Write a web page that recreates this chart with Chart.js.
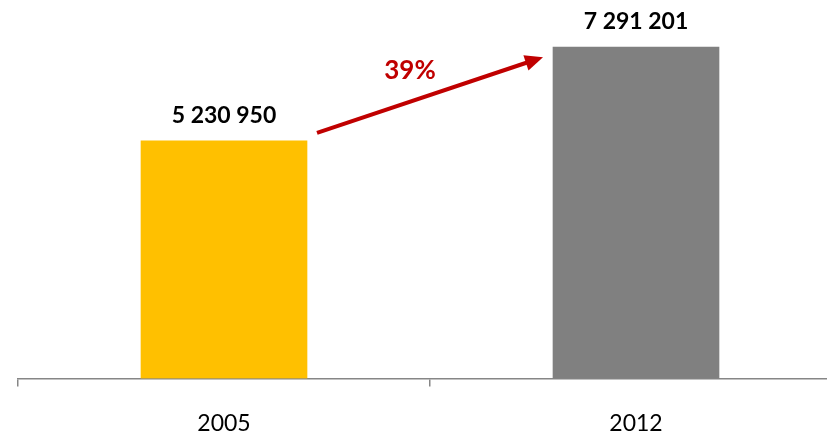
<!DOCTYPE html>
<html>
<head>
<meta charset="utf-8">
<script src="https://cdn.jsdelivr.net/npm/chart.js@4.4.1/dist/chart.umd.min.js"></script>
<style>
  html, body { margin: 0; padding: 0; background: #fff; overflow: hidden; }
  #wrap { width: 827px; height: 433px; overflow: hidden; }
</style>
</head>
<body>
<div id="wrap"><canvas id="c" width="842" height="460"></canvas></div>
<script>
// chart data
const years = ['2005', '2012'];
const population = [5230950, 7291201];
const barColors = ['#FFC000', '#808080'];
const growthLabel = '39%';

const fmt = v => String(v).replace(/\B(?=(\d{3})+(?!\d))/g, ' ');

// value labels above the bars + growth arrow between them
const annotate = {
  id: 'annotate',
  afterDatasetsDraw(chart) {
    const ctx = chart.ctx;
    const bars = chart.getDatasetMeta(0).data;
    ctx.save();
    ctx.fillStyle = '#000';
    ctx.font = 'bold 23px Lato, "Open Sans", sans-serif';
    ctx.textAlign = 'center';
    ctx.textBaseline = 'alphabetic';
    bars.forEach((b, i) => ctx.fillText(fmt(population[i]), b.x, b.y - 18));

    const a = bars[0], b = bars[1];
    const x1 = a.x + a.width / 2 + 10, y1 = a.y - 8;
    const x2 = b.x - b.width / 2 - 10, y2 = b.y + 10;
    const ang = Math.atan2(y2 - y1, x2 - x1);
    const head = 18, half = 8;
    const cos = Math.cos(ang), sin = Math.sin(ang);
    ctx.strokeStyle = '#C00000';
    ctx.fillStyle = '#C00000';
    ctx.lineWidth = 4;
    ctx.beginPath();
    ctx.moveTo(x1, y1);
    ctx.lineTo(x2 - head * 0.8 * cos, y2 - head * 0.8 * sin);
    ctx.stroke();
    ctx.beginPath();
    ctx.moveTo(x2, y2);
    ctx.lineTo(x2 - head * cos + half * sin, y2 - head * sin - half * cos);
    ctx.lineTo(x2 - head * cos - half * sin, y2 - head * sin + half * cos);
    ctx.closePath();
    ctx.fill();

    ctx.font = 'bold 26px Lato, "Open Sans", sans-serif';
    ctx.fillText(growthLabel, (x1 + x2) / 2 - 20, (y1 + y2) / 2 - 16);
    ctx.restore();
  }
};

new Chart(document.getElementById('c').getContext('2d'), {
  type: 'bar',
  data: {
    labels: years,
    datasets: [{ data: population, backgroundColor: barColors, borderWidth: 0 }]
  },
  options: {
    responsive: false,
    animation: false,
    layout: { padding: { top: 15, left: 18, right: 0, bottom: 0 } },
    plugins: { legend: { display: false }, tooltip: { enabled: false } },
    datasets: { bar: { barThickness: 166 } },
    scales: {
      x: {
        border: { display: true, color: '#868686', width: 1.5 },
        grid: { display: true, drawOnChartArea: false, color: '#868686', tickLength: 8, lineWidth: 1.5 },
        ticks: { color: '#000', font: { family: 'Lato, "Open Sans", sans-serif', size: 23 }, padding: 23 }
      },
      y: {
        display: false,
        min: 0,
        max: 8000000
      }
    }
  },
  plugins: [annotate]
});
</script>
</body>
</html>
